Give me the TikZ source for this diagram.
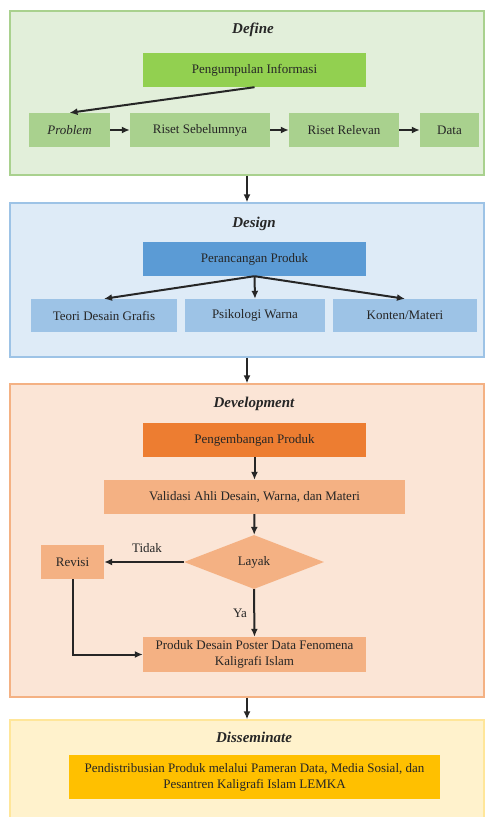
\documentclass[tikz,border=0pt]{standalone}
\usepackage{fontspec}
\setmainfont{Liberation Serif}
\usetikzlibrary{shapes.geometric,arrows.meta}
\definecolor{grnpanel}{HTML}{E2EFDA}
\definecolor{grnline}{HTML}{A9D18E}
\definecolor{grnhead}{HTML}{92D050}
\definecolor{grnbox}{HTML}{A9D18E}
\definecolor{blupanel}{HTML}{DEEBF7}
\definecolor{bluline}{HTML}{9DC3E6}
\definecolor{bluhead}{HTML}{5B9BD5}
\definecolor{blubox}{HTML}{9DC3E6}
\definecolor{orgpanel}{HTML}{FBE5D6}
\definecolor{orgline}{HTML}{F4B183}
\definecolor{orghead}{HTML}{ED7D31}
\definecolor{orgbox}{HTML}{F4B183}
\definecolor{ylwpanel}{HTML}{FFF2CC}
\definecolor{ylwline}{HTML}{FFE699}
\definecolor{ylwbox}{HTML}{FFC000}
\definecolor{txt}{HTML}{262626}
\begin{document}
\begin{tikzpicture}[x=1pt,y=-1pt,
  panel/.style={draw=#1line,fill=#1panel,line width=1.3pt,minimum width=474pt},
  box/.style={fill=#1,text=txt,inner sep=0pt,minimum height=34pt,align=center,
    font=\fontsize{13}{16}\selectfont},
  title/.style={font=\fontsize{15}{17}\selectfont\bfseries\itshape,text=txt},
  lbl/.style={font=\fontsize{13}{15}\selectfont,text=txt},
  arr/.style={-{Latex[length=8pt,width=7pt]},line width=2pt,draw=txt}]
\clip (0,0) rectangle (486,817);
\fill[white] (0,0) rectangle (486,817);

\node[panel=grn,minimum height=164pt] (define) at (247,93) {};
\node[title] (tdefine) at (253,30) {Define};
\node[box=grnhead,minimum width=223pt] (info) at (254.5,70) {Pengumpulan Informasi};
\node[box=grnbox,minimum width=81pt] (problem) at (69.5,130) {\itshape Problem};
\node[box=grnbox,minimum width=140pt] (riset) at (200,130) {Riset Sebelumnya};
\node[box=grnbox,minimum width=110pt] (relevan) at (344,130) {Riset Relevan};
\node[box=grnbox,minimum width=59pt] (data) at (449.5,130) {Data};

\node[panel=blu,minimum height=154pt] (design) at (247,280) {};
\node[title] (tdesign) at (254,224) {Design};
\node[box=bluhead,minimum width=223pt] (rancang) at (254.5,259) {Perancangan Produk};
\node[box=blubox,minimum width=146pt,minimum height=33pt] (teori) at (104,315.5) {Teori Desain Grafis};
\node[box=blubox,minimum width=140pt,minimum height=33pt] (psiko) at (255,315.5) {Psikologi Warna};
\node[box=blubox,minimum width=144pt,minimum height=33pt] (konten) at (405,315.5) {Konten/Materi};

\node[panel=org,minimum height=313pt] (develop) at (247,540.5) {};
\node[title] (tdevelop) at (254,404) {Development};
\node[box=orghead,minimum width=223pt] (kembang) at (254.5,440) {Pengembangan Produk};
\node[box=orgbox,minimum width=301pt] (validasi) at (254.5,497) {Validasi Ahli Desain, Warna, dan Materi};
\node[box=orgbox,diamond,aspect=2.6,minimum width=140pt,minimum height=54pt] (layak) at (254,562) {Layak};
\node[box=orgbox,minimum width=63pt] (revisi) at (72.5,562) {Revisi};
\node[box=orgbox,minimum width=223pt,minimum height=35pt] (produk) at (254.5,654.5) {Produk Desain Poster Data Fenomena\\Kaligrafi Islam};
\node[lbl] (tidak) at (147,548) {Tidak};
\node[lbl] (ya) at (240,613) {Ya};

\node[panel=ylw,minimum height=120pt] (dissem) at (247,780) {};
\node[title] (tdissem) at (254,737) {Disseminate};
\node[box=ylwbox,minimum width=371pt,minimum height=44pt] (distribusi) at (254.5,777) {Pendistribusian Produk melalui Pameran Data, Media Sosial, dan\\Pesantren Kaligrafi Islam LEMKA};

\draw[arr] (info.south) -- (problem.north);
\draw[arr] (problem) -- (riset);
\draw[arr] (riset) -- (relevan);
\draw[arr] (relevan) -- (data);
\draw[arr] (define.south) -- (design.north);
\draw[arr] (rancang.south) -- (teori.north);
\draw[arr] (rancang.south) -- (psiko.north);
\draw[arr] (rancang.south) -- (konten.north);
\draw[arr] (design.south) -- (develop.north);
\draw[arr] (kembang) -- (validasi);
\draw[arr] (validasi) -- (layak);
\draw[arr] (layak.west) -- (revisi.east);
\draw[arr] (layak.south) -- (produk.north);
\draw[arr] (revisi.south) |- (produk.west);
\draw[arr] (develop.south) -- (dissem.north);

\end{tikzpicture}
\end{document}
